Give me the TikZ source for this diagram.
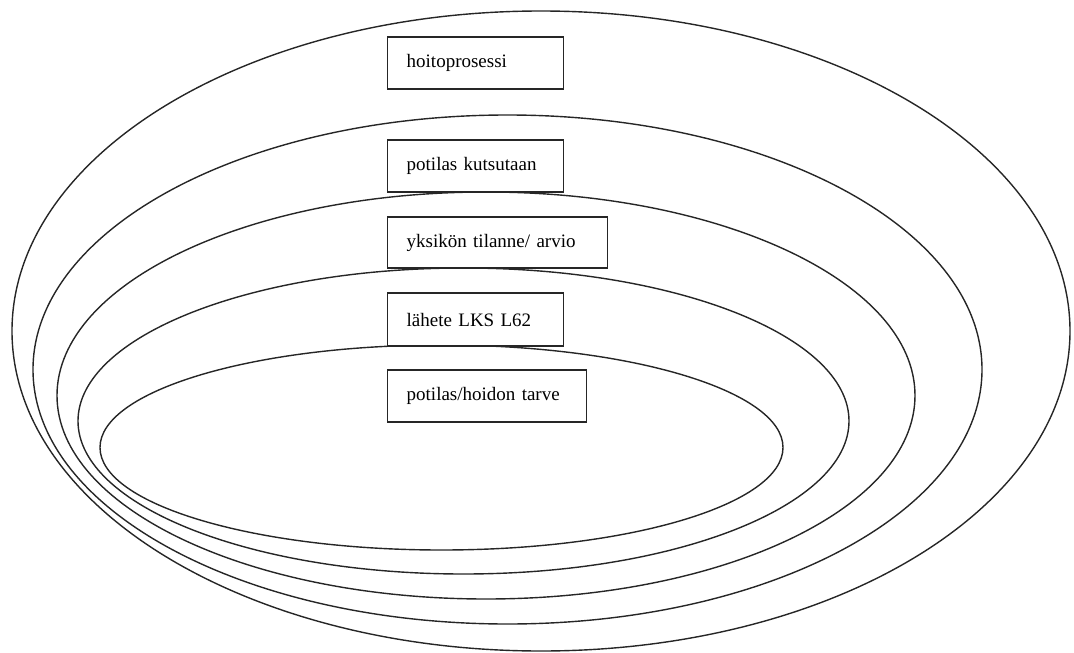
\documentclass[tikz,border=0pt]{standalone}
\usepackage{fontspec}
\setmainfont{Liberation Serif}
\usepackage{tikz}
\tikzstyle{Ring}=[draw=black!85,line width=1.4pt]
\tikzstyle{LabelBox}=[draw=black!85,fill=white,line width=1.4pt,anchor=west,
inner xsep=19pt,minimum height=52pt,align=left,font=\fontsize{19}{23}\selectfont]

\begin{document}
\begin{tikzpicture}[x=1pt,y=-1pt]
        \useasboundingbox(0,0)rectangle(1074,653);
        \draw[Ring](541,331)ellipse[x radius=529,y radius=320];
        \draw[Ring](507.5,369.5)ellipse[x radius=474.5,y radius=254.5];
        \draw[Ring](486,395.5)ellipse[x radius=429,y radius=203.5];
        \draw[Ring](463.5,421)ellipse[x radius=385.5,y radius=153];
        \draw[Ring](441.5,447.5)ellipse[x radius=341.5,y radius=102.5];
        \node[LabelBox,text width=138pt](hoito)at(387,63){hoitoprosessi};
        \node[LabelBox,text width=138pt](kutsu)at(387,166){potilas kutsutaan};
        \node[LabelBox,text width=182pt,minimum height=51pt](tilanne)at(387,242.5){yksikön tilanne/ arvio};
        \node[LabelBox,text width=138pt,minimum height=53pt](lahete)at(387,319.5){lähete LKS L62};
        \node[LabelBox,text width=161pt](tarve)at(387,396){potilas/hoidon tarve};
    \end{tikzpicture}
\end{document}
